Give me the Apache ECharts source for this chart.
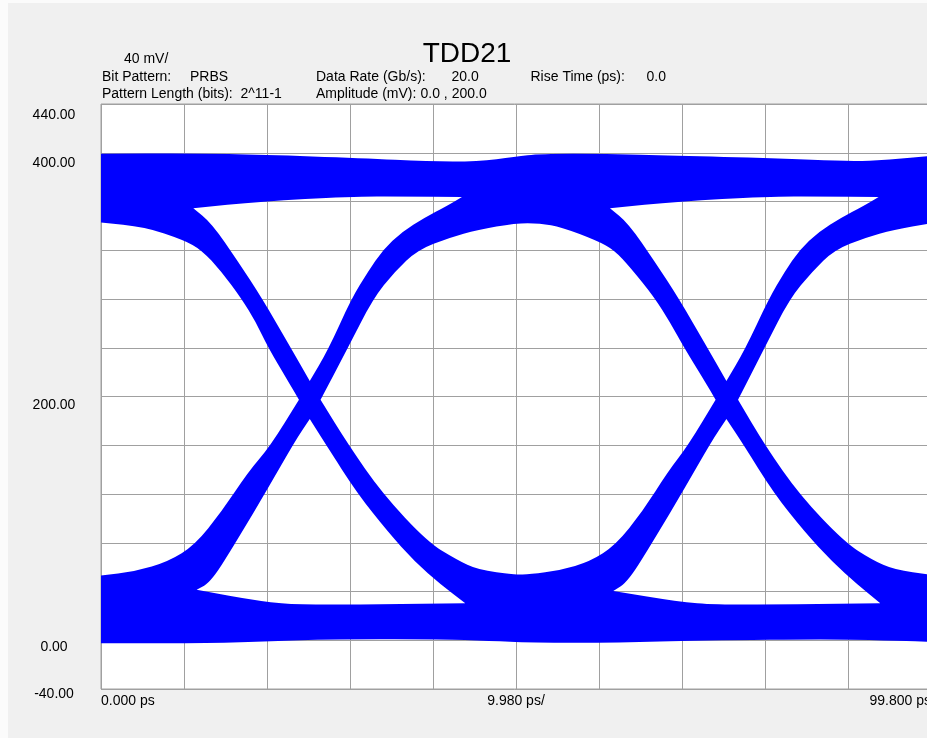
<!DOCTYPE html>
<html>
<head>
<meta charset="utf-8">
<title>TDD21</title>
<script src="https://cdn.jsdelivr.net/npm/echarts@6.0.0/dist/echarts.min.js"></script>
<style>
  html, body { margin: 0; padding: 0; background: #fbfbfb; }
  #chart { width: 927px; height: 738px; }
</style>
</head>
<body>
<div id="chart"></div>
<script>
// axes: time in ps, amplitude in mV
const xMin = 0, xMax = 99.8, xStep = 9.98;
const yMin = -40, yMax = 440, yStep = 40;
const xLabelValues = [0, 49.9, 99.8];
const xLabelTexts = ['0.000 ps', '9.980 ps/', '99.800 ps'];
const yLabelValues = [440, 400, 200, 0, -40];
const yLabelTexts = ['440.00', '400.00', '200.00', '0.00', '-40.00'];

// outer edges of the trace cloud [ps, mV]
const upperEdge = [[0, 399.1], [11.3, 399.5], [19.4, 398.3], [31.4, 395.6], [39.3, 392.8], [45.3, 392.8],
  [49.8, 396.6], [52.8, 399.1], [60.8, 399.1], [68.9, 397.5], [80.9, 395.6], [90.0, 392.8], [94.8, 394.2], [99.8, 397.5]];
const lowerEdge = [[0, -2.4], [11.9, -2.4], [19.7, -1.1], [26.3, 0.7], [40.7, 0.9], [46.8, -0.5],
  [51.6, -2.1], [62.4, -2.1], [72.0, -0.1], [88.8, 0.9], [96.0, -0.5], [99.8, -1.3]];

// empty regions inside the cloud (eye openings and gaps above/below the crossings)
const leftEye = [[0, 342.7], [5.3, 339.0], [9.9, 328.5], [12.1, 320.3], [14.5, 302.3], [16.9, 280.1], [18.6, 261.3],
  [20.1, 240.2], [22.4, 213.7], [23.8, 197.3], [20.3, 158.9], [17.7, 138.1], [14.5, 105.6], [11.3, 78.2],
  [8.1, 64.6], [4.1, 56.4], [0, 53.1]];
const topGap1 = [[11.1, 354.5], [19.3, 360.0], [29.8, 364.1], [36.5, 364.2], [43.4, 363.6], [41.6, 356.4],
  [38.9, 346.6], [36.2, 335.1], [33.9, 320.3], [32.1, 302.3], [30.1, 280.1], [27.3, 238.2], [25.1, 212.8],
  [22.8, 240.2], [19.4, 280.1], [16.5, 310.5], [13.3, 342.2]];
const bottomGap1 = [[11.5, 41.4], [19.3, 31.8], [24.1, 29.1], [33.5, 29.5], [43.8, 30.4], [40.9, 45.5],
  [37.7, 64.6], [34.5, 88.9], [30.8, 120.7], [27.0, 160.9], [25.1, 181.5], [23.3, 163.0], [20.1, 124.8],
  [16.5, 83.8], [13.3, 48.2]];
const centerEye = [[26.4, 197.3], [29.7, 240.2], [32.7, 280.1], [35.3, 302.3], [38.1, 320.3], [41.9, 330.2],
  [45.3, 336.7], [49.8, 342.2], [52.8, 342.2], [55.4, 339.0], [59.7, 327.7], [61.7, 320.3], [63.7, 305.5],
  [66.5, 281.7], [68.4, 261.2], [70.1, 240.2], [72.5, 213.7], [73.9, 197.3], [70.6, 159.9], [68.2, 138.6],
  [65.1, 105.6], [61.9, 78.2], [58.8, 64.6], [55.2, 57.4], [51.6, 54.1], [49.8, 53.7], [45.3, 57.8],
  [42.8, 66.0], [39.3, 80.5], [33.8, 120.7], [29.7, 160.9]];
const topGap2 = [[61.2, 354.5], [69.5, 360.0], [79.9, 364.1], [86.7, 364.2], [93.5, 363.6], [91.7, 356.4],
  [89.0, 346.6], [86.3, 335.1], [84.0, 320.3], [82.2, 302.3], [80.3, 280.1], [77.4, 238.2], [75.2, 212.8],
  [72.9, 240.2], [69.5, 280.1], [66.6, 310.5], [63.4, 342.2]];
const bottomGap2 = [[61.6, 40.5], [69.3, 31.8], [74.1, 29.1], [83.7, 29.5], [93.7, 30.4], [91.0, 45.5],
  [87.9, 64.6], [84.6, 88.9], [80.9, 120.7], [77.2, 160.9], [75.2, 181.5], [73.4, 163.0], [70.2, 124.8],
  [66.6, 83.8], [63.4, 48.2]];
const rightEye = [[76.6, 197.3], [79.8, 240.2], [82.8, 280.1], [85.5, 302.3], [88.2, 320.3], [91.9, 330.2],
  [95.3, 336.7], [99.8, 342.2], [99.8, 53.7], [95.4, 57.8], [92.7, 66.0], [89.4, 80.5], [84.0, 119.3], [79.9, 159.3]];

const openings = [leftEye, topGap1, bottomGap1, centerEye, topGap2, bottomGap2, rightEye];

const font = "'Liberation Sans', Arial, sans-serif";
const traceColor = '#0000ff';
const gridColor = '#a0a0a0';

function fmt(c) { return c[0].toFixed(2) + ' ' + c[1].toFixed(2); }

// closed ring as svg path: rounded through the read points, sharp at real corners,
// winding forced so the openings cut holes out of the cloud
function ringPath(api, pts, sign) {
  const px = pts.map(p => api.coord(p));
  let area = 0;
  for (let i = 0; i < px.length; i++) {
    const a = px[i], b = px[(i + 1) % px.length];
    area += a[0] * b[1] - b[0] * a[1];
  }
  if (area * sign < 0) px.reverse();
  const n = px.length;
  const mid = i => { const a = px[i], b = px[(i + 1) % n]; return [(a[0] + b[0]) / 2, (a[1] + b[1]) / 2]; };
  const sharp = i => {
    const p = px[(i - 1 + n) % n], c = px[i], q = px[(i + 1) % n];
    const a1 = Math.atan2(c[1] - p[1], c[0] - p[0]), a2 = Math.atan2(q[1] - c[1], q[0] - c[0]);
    let d = Math.abs(a2 - a1);
    if (d > Math.PI) d = 2 * Math.PI - d;
    return d > Math.PI / 4;
  };
  let s = 'M ' + fmt(mid(n - 1)) + ' ';
  for (let i = 0; i < n; i++) {
    if (sharp(i)) s += 'L ' + fmt(px[i]) + ' L ' + fmt(mid(i)) + ' ';
    else s += 'Q ' + fmt(px[i]) + ' ' + fmt(mid(i)) + ' ';
  }
  return s + 'Z ';
}

function headerText(text, x, y, size, align) {
  return {
    type: 'text', x: x, y: y,
    style: { text: text, font: (size || 14) + 'px ' + font, fill: '#000', align: align || 'left', verticalAlign: 'middle' }
  };
}

const chart = echarts.init(document.getElementById('chart'));

chart.setOption({
  animation: false,
  backgroundColor: '#fbfbfb',
  graphic: [
    { type: 'rect', z: -10, shape: { x: 8, y: 3, width: 919, height: 735 }, style: { fill: '#f0f0f0' } },
    headerText('TDD21', 467, 54, 28, 'center'),
    headerText('40 mV/', 124, 59.5),
    headerText('Bit Pattern:', 102, 77.5),
    headerText('PRBS', 190, 77.5),
    headerText('Pattern Length (bits):', 102, 94.5),
    headerText('2^11-1', 240.5, 94.5),
    headerText('Data Rate (Gb/s):', 316, 77.5),
    headerText('20.0', 451.5, 77.5),
    headerText('Amplitude (mV):', 316, 94.5),
    headerText('0.0 , 200.0', 420.5, 94.5),
    headerText('Rise Time (ps):', 530.5, 77.5),
    headerText('0.0', 646.5, 77.5)
  ],
  grid: {
    left: 101, top: 104, width: 830, height: 585,
    show: true, backgroundColor: '#ffffff', borderColor: gridColor, borderWidth: 1,
    outerBoundsMode: 'none'
  },
  xAxis: {
    type: 'value', min: xMin, max: xMax, interval: xStep,
    axisLine: { show: false }, axisTick: { show: false },
    splitLine: { show: true, lineStyle: { color: gridColor, width: 1 } },
    axisLabel: {
      margin: 5, fontSize: 14, fontFamily: font, color: '#000',
      showMinLabel: true, showMaxLabel: true, alignMinLabel: 'left', alignMaxLabel: 'right',
      formatter: function (v) {
        const i = xLabelValues.findIndex(x => Math.abs(x - v) < 0.01);
        return i < 0 ? '' : xLabelTexts[i];
      }
    }
  },
  yAxis: {
    type: 'value', min: yMin, max: yMax, interval: yStep,
    axisLine: { show: false }, axisTick: { show: false },
    splitLine: { show: true, lineStyle: { color: gridColor, width: 1 } },
    axisLabel: {
      align: 'center', margin: 47, fontSize: 14, fontFamily: font, color: '#000',
      showMinLabel: true, showMaxLabel: true,
      formatter: function (v) {
        const i = yLabelValues.indexOf(Math.round(v));
        return i < 0 ? '' : '{o' + i + '|' + yLabelTexts[i] + '}';
      },
      rich: {
        o0: { fontSize: 14, fontFamily: font, color: '#000', padding: [22, 0, 0, 0] },
        o1: { fontSize: 14, fontFamily: font, color: '#000', padding: [20, 0, 0, 0] },
        o2: { fontSize: 14, fontFamily: font, color: '#000', padding: [17, 0, 0, 0] },
        o3: { fontSize: 14, fontFamily: font, color: '#000', padding: [13, 0, 0, 0] },
        o4: { fontSize: 14, fontFamily: font, color: '#000', padding: [10, 0, 0, 0] }
      }
    }
  },
  series: [{
    type: 'custom',
    coordinateSystem: 'cartesian2d',
    clip: true,
    silent: true,
    data: [[0, 0]],
    renderItem: function (params, api) {
      const outline = upperEdge.concat(lowerEdge.slice().reverse());
      let d = ringPath(api, outline, 1);
      openings.forEach(o => { d += ringPath(api, o, -1); });
      return { type: 'path', shape: { pathData: d }, style: { fill: traceColor } };
    }
  }]
});
</script>
</body>
</html>
